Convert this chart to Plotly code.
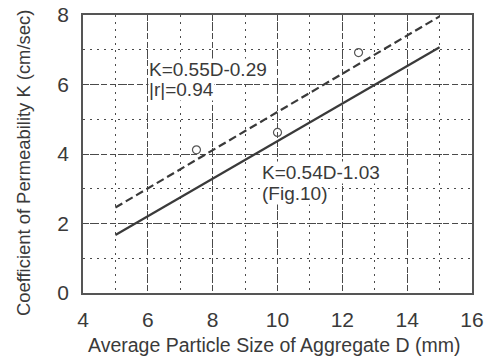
import plotly.graph_objects as go

# data
pts_d = [7.5, 10.0, 12.5]
pts_k = [4.12, 4.62, 6.92]
fit_d = [5, 15]
fit_a_slope, fit_a_int = 0.55, -0.29
fit_b_slope, fit_b_int = 0.54, -1.03
x_ticks = [4, 6, 8, 10, 12, 14, 16]
y_ticks = [0, 2, 4, 6, 8]
labels = ["K=0.55D-0.29", "|r|=0.94", "K=0.54D-1.03", "(Fig.10)"]
label_d = [6.0, 6.0, 9.5, 9.5]
label_k = [6.42, 5.85, 3.46, 2.87]
x_title = "Average Particle Size of Aggregate D (mm)"
y_title = "Coefficient of Permeability K (cm/sec)"

ka = [fit_a_slope * d + fit_a_int for d in fit_d]
kb = [fit_b_slope * d + fit_b_int for d in fit_d]

ink = "#3a3a3a"
grid = "#4a4a4a"
fig = go.Figure()
fig.add_trace(go.Scatter(x=fit_d, y=ka, mode="lines",
                         line=dict(color=ink, width=2.2, dash="8px,4px")))
fig.add_trace(go.Scatter(x=fit_d, y=kb, mode="lines",
                         line=dict(color=ink, width=2.2)))
fig.add_trace(go.Scatter(x=pts_d, y=pts_k, mode="markers",
                         marker=dict(symbol="circle-open", size=8,
                                     color="#555", line=dict(width=1.2))))

for t, d, k in zip(labels, label_d, label_k):
    fig.add_annotation(x=d, y=k, xref="x", yref="y", xanchor="left",
                       yanchor="middle", text=t, showarrow=False,
                       bgcolor="white", borderpad=0,
                       font=dict(size=19, color=ink))

# axis titles placed as annotations (plot area 83..472 x, 15..293 y in pixels)
fig.add_annotation(x=274, y=357 - 345, xref="paper", yref="paper",
                   text=x_title, showarrow=False, xanchor="center", yanchor="middle",
                   font=dict(size=19.5, color=ink))
fig.add_annotation(x=23, y=357 - 163, xref="paper", yref="paper",
                   text=y_title, showarrow=False, textangle=-90,
                   xanchor="center", yanchor="middle",
                   font=dict(size=18.4, color=ink))
for a in fig.layout.annotations[-2:]:
    a.x = (a.x - 83) / (472 - 83)
    a.y = (a.y - (357 - 293)) / (293 - 15)

axis_common = dict(showline=True, mirror=True, linecolor="#555", linewidth=1.5,
                   showgrid=True, gridcolor=grid, gridwidth=1.2, griddash="6px,3px",
                   zeroline=False, ticks="", automargin=False,
                   tickfont=dict(size=21, color=ink))
fig.update_xaxes(range=[4, 16], tickvals=x_ticks, ticklabelstandoff=7,
                 minor=dict(dtick=1, tick0=4, showgrid=True, gridcolor=grid,
                            griddash="2px,5px", gridwidth=1.2),
                 **axis_common)
fig.update_yaxes(range=[0, 8], tickvals=y_ticks, ticklabelstandoff=8,
                 minor=dict(dtick=1, tick0=0, showgrid=True, gridcolor=grid,
                            griddash="2px,5px", gridwidth=1.2),
                 **axis_common)
fig.update_layout(width=497, height=357, showlegend=False,
                  margin=dict(l=83, r=25, t=15, b=64),
                  plot_bgcolor="white", paper_bgcolor="white",
                  font=dict(family="Liberation Sans, Arial, sans-serif", color=ink))
fig.write_html("out.html")
